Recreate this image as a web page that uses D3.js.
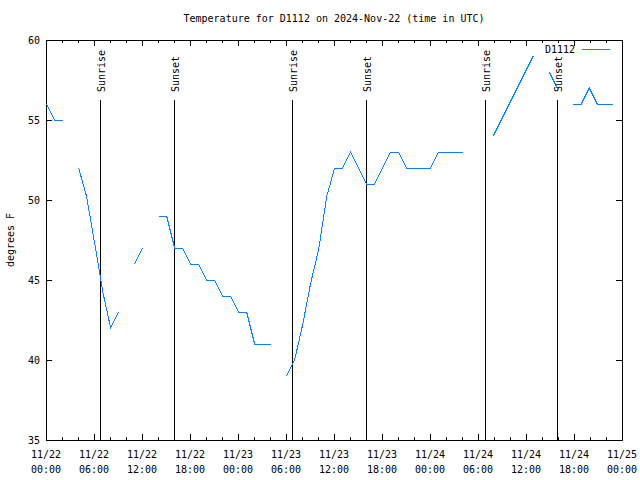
<!DOCTYPE html>
<html><head><meta charset="utf-8">
<script src="https://cdn.jsdelivr.net/npm/d3@7"></script>
<style>
body{margin:0;background:#fff}
svg text{font-family:"DejaVu Sans Mono","Liberation Mono",monospace;font-size:10px;fill:#000}
</style>
</head><body><svg id="c" width="640" height="480"></svg>
<script>
const chartTitle = "Temperature for D1112 on 2024-Nov-22 (time in UTC)";
const seriesName = "D1112";
const yLabel = "degrees F";
const startTime = "2024-11-22T00:00:00Z";
// hours since start, and temperature (null = gap)
const hours = [0.08,1.08,2.08,3.08,
  4.08,5.08,6.08,7.08,8.08,9.08,10.08,
  11.08,12.08,13.08,
  14.08,15.08,16.08,17.08,18.08,19.08,20.08,21.08,22.08,23.08,24.08,25.08,26.08,27.08,28.08,29.08,
  30.08,31.08,32.08,33.08,34.08,35.08,36.08,37.08,38.08,39.08,40.08,41.08,42.08,43.08,44.08,45.08,46.08,47.08,48.08,49.08,50.08,51.08,52.08,53.08,
  55.9,56.9,57.9,58.9,59.9,60.9,61.9,
  62.9,63.9,64.9,
  65.9,66.9,67.9,68.9,69.9,70.9];
const temps = [56,55,55,null,
  52,50.2,47.3,44.3,42,43,null,
  46,47,null,
  49,49,47,47,46,46,45,45,44,44,43,43,41,41,41,null,
  39,40,42.2,44.8,46.9,50.2,52,52,53,52,51,51,52,53,53,52,52,52,52,53,53,53,53,null,
  54,55,56,57,58,59,null,
  58,57,null,
  56,56,57,56,56,56];
const yTicks = [35,40,45,50,55,60];
const xMajorHours = [0,6,12,18,24,30,36,42,48,54,60,66,72];
const xTickDates = ["11/22","11/22","11/22","11/22","11/23","11/23","11/23","11/23","11/24","11/24","11/24","11/24","11/25"];
const xTickTimes = ["00:00","06:00","12:00","18:00","00:00","06:00","12:00","18:00","00:00","06:00","12:00","18:00","00:00"];
const xMinorHours = [2,4,8,10,14,16,20,22,26,28,32,34,38,40,44,46,50,52,56,58,62,64,68,70];
const sunLabels = ["Sunrise","Sunset","Sunrise","Sunset","Sunrise","Sunset"];
const sunHours = [6.75,16,30.75,40,54.85,63.9];

const t0 = new Date(startTime).getTime();
const toDate = h => new Date(t0 + h*3600000);

const L=46, R=622, T=40, B=440;
const svg = d3.select("#c");
const x = d3.scaleUtc().domain([toDate(0), toDate(72)]).range([L, R]);
const y = d3.scaleLinear().domain([35, 60]).range([B, T]);
const color = "#0a80ff";

const g = svg.append("g").attr("shape-rendering","crispEdges");

// axes (ticks inward, mirrored)
const bottomMajor = d3.axisBottom(x).tickValues(xMajorHours.map(toDate)).tickSizeInner(-6).tickSizeOuter(0).tickFormat("");
const bottomMinor = d3.axisBottom(x).tickValues(xMinorHours.map(toDate)).tickSizeInner(-3).tickSizeOuter(0).tickFormat("");
const topMajor = d3.axisTop(x).tickValues(xMajorHours.map(toDate)).tickSizeInner(-6).tickSizeOuter(0).tickFormat("");
const topMinor = d3.axisTop(x).tickValues(xMinorHours.map(toDate)).tickSizeInner(-3).tickSizeOuter(0).tickFormat("");
const leftAx = d3.axisLeft(y).tickValues(yTicks).tickSizeInner(-6).tickSizeOuter(0).tickFormat("");
const rightAx = d3.axisRight(y).tickValues(yTicks).tickSizeInner(-6).tickSizeOuter(0).tickFormat("");
[[bottomMajor,`translate(0,${B})`],[bottomMinor,`translate(0,${B})`],[topMajor,`translate(0,${T})`],[topMinor,`translate(0,${T})`],
 [leftAx,`translate(${L},0)`],[rightAx,`translate(${R},0)`]].forEach(([ax,tr])=>{
  const a = g.append("g").attr("transform",tr).call(ax);
  a.selectAll("path.domain").remove();
  a.selectAll("line").attr("stroke","#000");
});
// border
g.append("rect").attr("x",L).attr("y",T).attr("width",R-L).attr("height",B-T)
  .attr("fill","none").attr("stroke","#000");

// tick labels
svg.append("g").selectAll("text").data(yTicks).join("text")
  .attr("x", L-6).attr("y", d=>y(d)).attr("dy","0.35em").attr("text-anchor","end").text(d=>d);
const xl = svg.append("g").selectAll("text").data(xMajorHours).join("text")
  .attr("text-anchor","middle").attr("x", d=>x(toDate(d)));
xl.append("tspan").attr("x", d=>x(toDate(d))).attr("y", 458).text((d,i)=>xTickDates[i]);
xl.append("tspan").attr("x", d=>x(toDate(d))).attr("y", 473).text((d,i)=>xTickTimes[i]);

// title & y label
svg.append("text").attr("x",(L+R)/2).attr("y",22).attr("text-anchor","middle").text(chartTitle);
svg.append("text").attr("transform",`translate(14,${(T+B)/2}) rotate(-90)`).attr("text-anchor","middle").text(yLabel);

// data line
const pts = hours.map((h,i)=>({d:toDate(h), v:temps[i]}));
const line = d3.line().defined(p=>p.v!==null).x(p=>x(p.d)).y(p=>y(p.v));
svg.append("path").datum(pts).attr("d",line).attr("fill","none").attr("stroke",color)
  .attr("stroke-width",1).attr("shape-rendering","crispEdges");

// sunrise / sunset lines
sunHours.forEach((h,i)=>{
  const xx = Math.round(x(toDate(h)))+0.5;
  g.append("line").attr("x1",xx).attr("x2",xx).attr("y1",100).attr("y2",B).attr("stroke","#000");
  svg.append("text").attr("transform",`translate(${xx+4},92) rotate(-90)`).attr("text-anchor","start").text(sunLabels[i]);
});

// legend
svg.append("text").attr("x",575).attr("y",49).attr("dy","0.35em").attr("text-anchor","end").text(seriesName);
g.append("line").attr("x1",582).attr("x2",610).attr("y1",49.5).attr("y2",49.5).attr("stroke",color);
</script></body></html>
